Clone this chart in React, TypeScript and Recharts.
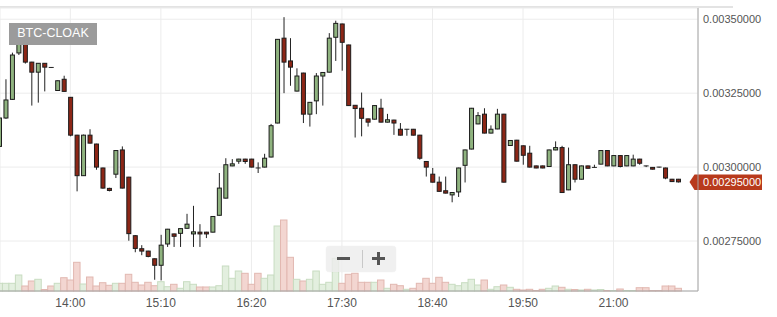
import React from 'react';
import { ComposedChart, Bar, XAxis, YAxis, CartesianGrid, ReferenceLine } from 'recharts';

// prices in units of 1e-5 BTC, 5-minute candles starting at 13:05
const startMinute = 785;
const opens = [
  307.0, 316.6, 322.9, 338.6, 344.0, 335.5, 332.1, 335.1, 333.7, 325.9,
  329.7, 323.6, 310.8, 297.1, 310.8, 307.8, 299.7, 292.8, 297.6, 305.8,
  296.6, 276.8, 272.4, 271.6, 269.0, 266.8, 274.0, 277.4, 277.6, 279.3,
  277.4, 278.0, 278.0, 278.0, 283.7, 289.5, 300.4, 302.0, 302.7, 302.7,
  299.7, 300.0, 303.4, 314.9, 343.6, 335.9, 325.7, 331.8, 317.9, 322.4,
  330.8, 332.1, 343.9, 348.4, 341.3, 320.9, 319.9, 316.3, 316.2, 319.9,
  315.2, 315.9, 312.8, 312.8, 312.8, 310.8, 301.9, 297.6, 294.9, 292.0,
  290.6, 291.6, 300.6, 306.1, 314.6, 317.9, 311.5, 312.9, 317.9, 307.3,
  309.1, 307.2, 304.7, 300.4, 300.4, 300.2, 305.8, 306.6, 292.3, 300.8,
  295.9, 300.4, 299.9, 301.0, 305.6, 300.4, 303.9, 300.4, 300.4, 302.7,
  300.4, 299.9, 300.0, 299.7, 295.9, 295.9,
];
const highs = [
  317.0, 329.7, 338.7, 346.0, 346.0, 335.6, 335.2, 335.2, 333.8, 329.3,
  330.9, 323.7, 310.9, 311.0, 312.8, 307.9, 299.8, 293.0, 305.7, 307.0,
  296.7, 277.0, 273.6, 271.7, 269.1, 277.1, 279.1, 277.5, 279.3, 284.2,
  286.9, 280.7, 278.1, 283.4, 298.0, 303.0, 302.7, 302.8, 302.8, 302.8,
  301.6, 304.5, 314.6, 343.3, 350.7, 343.6, 333.4, 331.9, 322.0, 331.8,
  332.1, 345.3, 349.5, 348.5, 341.4, 321.0, 325.2, 316.4, 320.9, 323.1,
  318.0, 316.0, 314.9, 312.9, 312.9, 310.9, 302.0, 299.7, 296.8, 296.8,
  291.5, 299.8, 305.9, 320.0, 318.6, 319.9, 314.1, 319.7, 318.0, 309.1,
  309.2, 307.3, 307.2, 300.5, 300.5, 305.9, 308.7, 307.2, 306.6, 300.9,
  300.5, 300.5, 300.8, 305.7, 305.7, 304.0, 304.0, 304.0, 304.2, 302.8,
  300.5, 300.0, 300.1, 299.8, 296.0, 296.0,
];
const lows = [
  305.0, 316.3, 322.7, 337.9, 335.0, 320.8, 321.8, 325.6, 333.5, 325.8,
  325.5, 310.4, 291.8, 297.0, 308.0, 299.1, 292.7, 291.8, 296.3, 292.8,
  275.1, 271.2, 270.2, 269.5, 261.9, 261.7, 273.0, 273.0, 273.0, 279.2,
  273.0, 273.0, 276.0, 277.9, 283.6, 289.4, 300.3, 301.1, 301.1, 299.9,
  298.0, 299.9, 303.3, 314.8, 325.0, 327.5, 325.6, 314.9, 313.7, 317.9,
  320.8, 332.0, 335.9, 332.6, 320.7, 310.0, 310.4, 313.7, 316.1, 315.1,
  315.1, 310.9, 310.7, 310.6, 310.7, 302.5, 296.8, 294.8, 291.7, 291.1,
  288.1, 289.9, 294.8, 306.0, 314.5, 311.4, 311.4, 312.8, 294.8, 307.2,
  301.9, 300.8, 299.9, 299.6, 299.6, 300.1, 305.7, 291.3, 292.2, 294.8,
  295.8, 299.5, 299.8, 300.9, 300.3, 300.3, 299.9, 300.3, 300.3, 300.8,
  300.0, 299.2, 299.8, 295.9, 295.0, 294.8,
];
const closes = [
  316.6, 322.7, 337.9, 344.0, 335.5, 332.1, 335.1, 333.8, 333.6, 329.2,
  325.6, 310.8, 297.1, 310.8, 308.1, 300.0, 292.9, 292.1, 305.6, 292.9,
  277.5, 272.5, 271.6, 269.8, 266.8, 273.6, 279.0, 276.6, 279.2, 280.7,
  278.1, 277.4, 277.4, 283.3, 292.9, 300.8, 301.1, 302.7, 301.9, 300.0,
  299.6, 303.0, 314.0, 343.2, 335.5, 333.8, 330.8, 317.9, 321.9, 330.8,
  332.0, 343.6, 348.6, 342.2, 320.8, 319.8, 316.5, 315.2, 320.8, 315.2,
  316.0, 314.9, 310.8, 312.8, 310.8, 303.0, 300.0, 294.9, 291.8, 291.2,
  291.4, 299.7, 305.8, 319.9, 317.4, 311.5, 312.8, 317.9, 294.9, 309.0,
  302.0, 304.0, 300.0, 299.7, 299.7, 305.8, 306.6, 291.4, 300.8, 295.9,
  300.4, 299.6, 299.9, 305.6, 300.4, 303.9, 300.2, 303.9, 302.7, 301.3,
  300.3, 299.3, 299.9, 296.3, 295.1, 295.0,
];
const volumes = [
  7.7, 7.7, 7.7, 16, 5, 10, 11.7, 1.5, 5, 7.7,
  13.3, 11, 28.7, 7, 14, 5, 8.3, 5.7, 7.7, 7.7,
  16.7, 8.7, 6, 8.7, 5.3, 9.3, 4.3, 6.7, 2.7, 9.3,
  6.7, 4, 4, 4, 5.3, 25, 12.7, 20, 17.7, 6.7,
  17.7, 12.7, 16, 65, 71, 33.7, 11.7, 10, 11.7, 20,
  6.7, 8.7, 32.7, 7.7, 16.7, 17.7, 8.7, 8.7, 8.7, 11,
  2.7, 6.7, 5.3, 1.7, 2.7, 7.7, 12.7, 7.7, 13.7, 8.7,
  6.7, 5.3, 8.3, 11.7, 6, 11, 1.7, 4.3, 6, 3.7,
  1.7, 1, 1.7, 0.5, 1.7, 2.7, 5, 3.7, 1.7, 1.5,
  1, 1.7, 1, 1.5, 0.5, 0.5, 2, 0.5, 0.5, 3.3,
  3.3, 0.5, 0.5, 5, 5, 2.7,
];
const timeTicks = [840, 910, 980, 1050, 1120, 1190, 1260];
const priceTicks = [275, 300, 325, 350];
const lastPrice = 295;
const pairName = 'BTC-CLOAK';

const FONT = 'Arial, "Liberation Sans", sans-serif';
const GREEN = '#8fb37f';
const RED = '#8c2616';

const rows = opens.map((o, i) => ({
  t: startMinute + i * 5,
  o,
  h: highs[i],
  l: lows[i],
  c: closes[i],
  hl: [lows[i], highs[i]],
  vol: volumes[i],
}));

const fmtTime = (v: number) => `${Math.floor(v / 60)}:${String(v % 60).padStart(2, '0')}`;
const fmtPrice = (v: number) => (v / 1e5).toFixed(8);

const Candle = (props: any) => {
  const { x, y, width, height, payload } = props;
  if (x == null || y == null) return null;
  const cx = x + width / 2;
  const top = Math.min(y, y + height);
  const h = Math.abs(height);
  const range = payload.h - payload.l;
  const k = range > 0 ? h / range : 0;
  const bodyTop = top + (payload.h - Math.max(payload.o, payload.c)) * k;
  const bodyBot = top + (payload.h - Math.min(payload.o, payload.c)) * k;
  const up = payload.c >= payload.o;
  const bodyH = bodyBot - bodyTop;
  return (
    <g>
      <line x1={cx} x2={cx} y1={top} y2={top + h} stroke="#222" strokeWidth={1} />
      {bodyH < 0.6 ? (
        <line x1={cx - 2.5} x2={cx + 2.5} y1={bodyTop} y2={bodyTop} stroke="#222" strokeWidth={1} />
      ) : (
        <rect x={cx - 2} y={bodyTop} width={4} height={Math.max(bodyH, 1)} fill={up ? GREEN : RED} stroke="#1c1c1c" strokeWidth={1} />
      )}
    </g>
  );
};

const VolumeBar = (props: any) => {
  const { x, y, width, height, payload } = props;
  if (x == null || y == null) return null;
  const up = payload.c >= payload.o;
  return (
    <rect
      x={x}
      y={y}
      width={width}
      height={Math.max(height, 0)}
      fill={up ? '#e3efdf' : '#f3d6d1'}
      stroke={up ? '#c8dcc1' : '#e2b8b1'}
      strokeWidth={1}
    />
  );
};

const TimeTick = (props: any) => {
  const { x, y, payload } = props;
  return (
    <text x={x} y={y + 16} textAnchor="middle" fontSize={12} fill="#555" fontFamily={FONT}>
      {fmtTime(payload.value)}
    </text>
  );
};

const PriceBadge = (props: any) => {
  const { viewBox } = props;
  if (!viewBox) return null;
  const right = viewBox.x + viewBox.width;
  const y = viewBox.y;
  const tip = right - 8.5;
  const pts = `${tip},${y} ${tip + 5},${y - 7.5} ${right + 64},${y - 7.5} ${right + 64},${y + 8} ${tip + 5},${y + 8}`;
  return (
    <g>
      <polygon points={pts} fill="#b83a1c" />
      <text x={right + 5} y={y + 4} fontSize={11} fill="#fff" fontFamily={FONT}>
        {fmtPrice(lastPrice)}
      </text>
    </g>
  );
};

export default function App() {
  return (
    <div style={{ position: 'absolute', left: 0, top: 0, width: 777, height: 317, fontFamily: FONT, background: '#fff' }}>
      <div style={{ position: 'absolute', left: 0, top: 6, width: 733, height: 2, background: '#e3e3e3' }} />
      <ComposedChart
        width={777}
        height={317}
        data={rows}
        margin={{ top: 8, right: 0, bottom: 0, left: 0 }}
        barCategoryGap={0}
        barGap={0}
      >
        <CartesianGrid xAxisId="t" yAxisId="p" stroke="#ececec" />
        <XAxis
          xAxisId="t"
          dataKey="t"
          type="number"
          domain={[785.6, 1325.3]}
          ticks={timeTicks}
          interval={0}
          allowDataOverflow
          height={26}
          tickLine={false}
          tickSize={0}
          tickMargin={0}
          axisLine={{ stroke: '#a6a6a6' }}
          tick={<TimeTick />}
        />
        <XAxis xAxisId="v" dataKey="t" type="number" domain={[785.6, 1325.3]} allowDataOverflow hide />
        <YAxis
          yAxisId="p"
          orientation="right"
          width={79}
          domain={[258.1, 353.8]}
          ticks={priceTicks}
          interval={0}
          allowDataOverflow
          tickLine={false}
          tickSize={0}
          tickMargin={5}
          axisLine={{ stroke: '#a6a6a6' }}
          tick={{ fontSize: 11, fill: '#555', fontFamily: FONT }}
          tickFormatter={fmtPrice}
        />
        <YAxis yAxisId="v" domain={[0, 283]} hide />
        <Bar xAxisId="v" yAxisId="v" dataKey="vol" barSize={6.46} shape={<VolumeBar />} isAnimationActive={false} />
        <Bar xAxisId="t" yAxisId="p" dataKey="hl" barSize={5} shape={<Candle />} isAnimationActive={false} />
        <ReferenceLine xAxisId="t" yAxisId="p" y={lastPrice} stroke="none" label={PriceBadge} />
      </ComposedChart>
      <div
        style={{
          position: 'absolute', left: 9, top: 23, width: 88, height: 21.5, background: '#9b9b9b',
          color: '#fff', fontSize: 12.5, lineHeight: '21.5px', textAlign: 'center',
        }}
      >
        {pairName}
      </div>
      <div
        style={{
          position: 'absolute', left: 326, top: 246, width: 70, height: 26, borderRadius: 4,
          background: 'rgba(236,236,236,0.8)', boxShadow: '0 0 1px rgba(0,0,0,0.15)',
        }}
      >
        <svg width={70} height={26}>
          <rect x={11} y={11} width={13} height={3} fill="#555" />
          <line x1={36.5} x2={36.5} y1={4} y2={22} stroke="#c8c8c8" strokeWidth={1} />
          <rect x={46} y={11} width={13} height={3} fill="#555" />
          <rect x={51} y={6} width={3} height={13} fill="#555" />
        </svg>
      </div>
    </div>
  );
}
